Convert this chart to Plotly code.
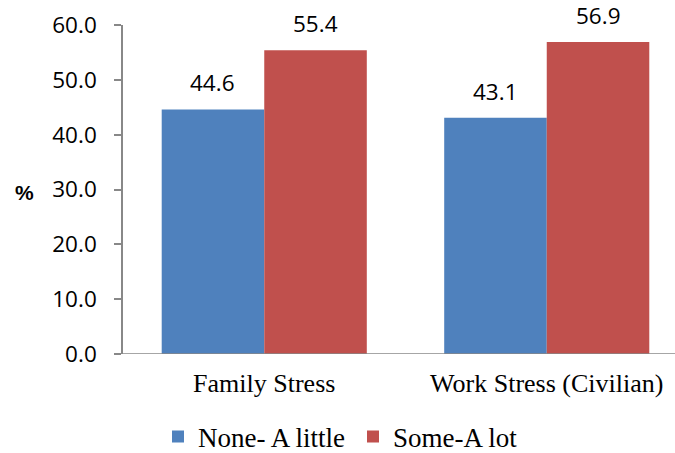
import plotly.graph_objects as go

categories = ['Family Stress', 'Work Stress (Civilian)']
none_little = [44.6, 43.1]
some_lot = [55.4, 56.9]
series_names = ['None- A little', 'Some-A lot']
y_ticks = [0, 10, 20, 30, 40, 50, 60]

SANS = 'Open Sans, Liberation Sans'
SERIF = 'Liberation Serif'

fig = go.Figure()
fig.add_trace(go.Bar(x=categories, y=none_little, name=series_names[0],
                     marker=dict(color='#4F81BD', line=dict(width=0))))
fig.add_trace(go.Bar(x=categories, y=some_lot, name=series_names[1],
                     marker=dict(color='#C0504D', line=dict(width=0))))

# value labels above bars
for i, cat in enumerate(categories):
    for vals, off in ((none_little, -0.182), (some_lot, 0.182)):
        fig.add_annotation(x=i + off, y=vals[i], text=f'{vals[i]:.1f}',
                           xref='x', yref='y', showarrow=False,
                           yanchor='bottom', yshift=9,
                           font=dict(family=SANS, size=22.5, color='#000'))

# "%" axis label
fig.add_annotation(text='<b>%</b>', xref='paper', yref='paper',
                   x=(24 - 123) / 552, y=(354 - 192) / 329, showarrow=False,
                   xanchor='center', yanchor='middle',
                   font=dict(family='Liberation Sans', size=21, color='#000'))

fig.update_layout(
    width=675, height=453,
    margin=dict(l=123, r=0, t=25, b=99),
    plot_bgcolor='white', paper_bgcolor='white',
    barmode='group', bargap=0.274, bargroupgap=0,
    showlegend=True,
    legend=dict(orientation='h', xref='container', yref='container',
                x=158 / 675, y=1 - 437 / 453, xanchor='left', yanchor='middle',
                font=dict(family=SERIF, size=27, color='#000'),
                itemwidth=30, entrywidth=150, traceorder='normal'),
    xaxis=dict(type='category', range=[-0.5, 1.454], showline=False, ticks='',
               automargin=False,
               tickfont=dict(family=SERIF, size=26, color='#000'),
               ticklabelstandoff=11),
    yaxis=dict(range=[0, 60], tickvals=y_ticks, tickformat='.1f', automargin=False,
               showgrid=False, zeroline=False, showline=True, linecolor='#888', linewidth=1.5,
               ticks='outside', ticklen=7, tickcolor='#888', tickwidth=1.5,
               tickfont=dict(family=SANS, size=22.5, color='#000'),
               ticklabelstandoff=13),
)
# x axis baseline
fig.add_shape(type='line', xref='paper', yref='y', x0=0, x1=1, y0=0, y1=0,
              line=dict(color='#888', width=1.5))

fig.write_html('out.html', config={'displayModeBar': False},
               post_script="document.body.style.margin='0';document.body.style.overflow='hidden';")
